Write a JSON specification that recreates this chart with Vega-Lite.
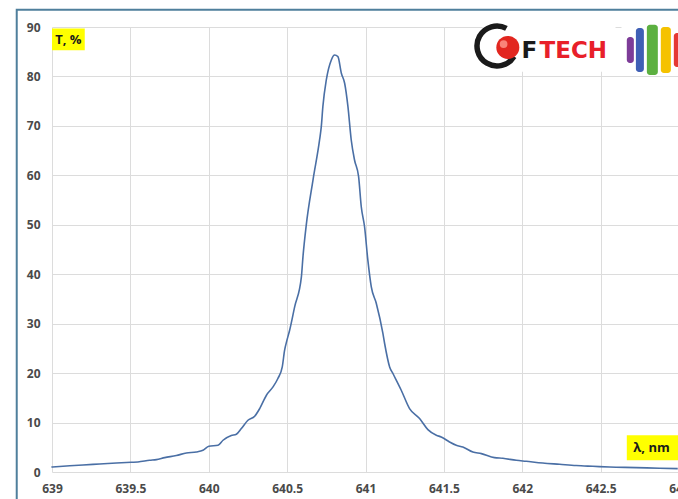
{
  "$schema": "https://vega.github.io/schema/vega-lite/v6.json",
  "width": 627,
  "height": 445,
  "autosize": {"type": "none"},
  "padding": {"left": 52, "top": 27, "right": 0, "bottom": 27},
  "background": "white",
  "config": {
    "view": {"stroke": null},
    "font": "Open Sans",
    "axis": {
      "domain": false,
      "ticks": false,
      "grid": true,
      "gridColor": "#dcdcdc",
      "gridWidth": 1,
      "labelFont": "Open Sans",
      "labelFontSize": 12,
      "labelFontWeight": "bold",
      "labelColor": "#4a4a4a"
    },
    "axisX": {"labelPadding": 11},
    "axisY": {"labelPadding": 12}
  },
  "data": {
    "values": [
      {"wl": 638.996, "T": 1.01},
      {"wl": 639.092, "T": 1.21},
      {"wl": 639.198, "T": 1.42},
      {"wl": 639.304, "T": 1.62},
      {"wl": 639.411, "T": 1.82},
      {"wl": 639.506, "T": 1.96},
      {"wl": 639.548, "T": 2.02},
      {"wl": 639.623, "T": 2.37},
      {"wl": 639.666, "T": 2.51},
      {"wl": 639.719, "T": 2.91},
      {"wl": 639.793, "T": 3.32},
      {"wl": 639.857, "T": 3.85},
      {"wl": 639.921, "T": 4.05},
      {"wl": 639.963, "T": 4.39},
      {"wl": 640.001, "T": 5.2},
      {"wl": 640.059, "T": 5.4},
      {"wl": 640.091, "T": 6.42},
      {"wl": 640.144, "T": 7.37},
      {"wl": 640.176, "T": 7.63},
      {"wl": 640.208, "T": 8.79},
      {"wl": 640.25, "T": 10.47},
      {"wl": 640.293, "T": 11.28},
      {"wl": 640.325, "T": 12.83},
      {"wl": 640.368, "T": 15.53},
      {"wl": 640.41, "T": 17.21},
      {"wl": 640.441, "T": 18.91},
      {"wl": 640.469, "T": 21.26},
      {"wl": 640.484, "T": 24.64},
      {"wl": 640.499, "T": 26.66},
      {"wl": 640.516, "T": 28.68},
      {"wl": 640.548, "T": 33.4},
      {"wl": 640.591, "T": 39.47},
      {"wl": 640.601, "T": 43.52},
      {"wl": 640.622, "T": 49.94},
      {"wl": 640.665, "T": 59.05},
      {"wl": 640.707, "T": 67.15},
      {"wl": 640.718, "T": 69.84},
      {"wl": 640.728, "T": 73.89},
      {"wl": 640.75, "T": 79.29},
      {"wl": 640.782, "T": 83.34},
      {"wl": 640.803, "T": 84.35},
      {"wl": 640.824, "T": 84.01},
      {"wl": 640.846, "T": 80.65},
      {"wl": 640.867, "T": 78.62},
      {"wl": 640.888, "T": 73.89},
      {"wl": 640.909, "T": 67.15},
      {"wl": 640.93, "T": 63.1},
      {"wl": 640.956, "T": 59.72},
      {"wl": 640.973, "T": 53.64},
      {"wl": 640.994, "T": 49.6},
      {"wl": 641.015, "T": 42.85},
      {"wl": 641.037, "T": 37.45},
      {"wl": 641.069, "T": 34.09},
      {"wl": 641.111, "T": 28.02},
      {"wl": 641.122, "T": 25.99},
      {"wl": 641.154, "T": 21.26},
      {"wl": 641.175, "T": 19.92},
      {"wl": 641.228, "T": 16.54},
      {"wl": 641.281, "T": 12.83},
      {"wl": 641.345, "T": 10.81},
      {"wl": 641.398, "T": 8.58},
      {"wl": 641.452, "T": 7.43},
      {"wl": 641.483, "T": 7.09},
      {"wl": 641.536, "T": 6.07},
      {"wl": 641.579, "T": 5.4},
      {"wl": 641.621, "T": 5.06},
      {"wl": 641.685, "T": 4.05},
      {"wl": 641.739, "T": 3.72},
      {"wl": 641.823, "T": 2.91},
      {"wl": 641.876, "T": 2.77},
      {"wl": 641.962, "T": 2.37},
      {"wl": 642.025, "T": 2.17},
      {"wl": 642.131, "T": 1.82},
      {"wl": 642.238, "T": 1.56},
      {"wl": 642.344, "T": 1.3},
      {"wl": 642.45, "T": 1.15},
      {"wl": 642.557, "T": 1.01},
      {"wl": 642.727, "T": 0.89},
      {"wl": 642.876, "T": 0.75},
      {"wl": 642.992, "T": 0.69}
    ]
  },
  "layer": [
    {
      "mark": {"type": "line", "color": "#4a6fa5", "strokeWidth": 1.6, "interpolate": "monotone"},
      "encoding": {
        "x": {
          "field": "wl", "type": "quantitative",
          "scale": {"domain": [639, 643], "nice": false, "zero": false},
          "axis": {"values": [639, 639.5, 640, 640.5, 641, 641.5, 642, 642.5, 643], "format": "~g", "title": null, "labelFlush": false, "labelOverlap": false}
        },
        "y": {
          "field": "T", "type": "quantitative",
          "scale": {"domain": [0, 90], "nice": false},
          "axis": {"values": [0, 10, 20, 30, 40, 50, 60, 70, 80, 90], "format": "d", "title": null, "labelFlush": false}
        }
      }
    },
    {
      "data": {"values": [{}]},
      "mark": {"type": "rect", "fillOpacity": 0, "stroke": "#4f7f9c", "strokeWidth": 2},
      "encoding": {
        "x": {"datum": 638.775, "type": "quantitative"},
        "x2": {"datum": 643.5},
        "y": {"datum": 93.5, "type": "quantitative"},
        "y2": {"datum": -10}
      }
    },
    {
      "data": {"values": [{}]},
      "mark": {"type": "rect", "fill": "white", "strokeWidth": 0},
      "encoding": {
        "x": {"datum": 641.747, "type": "quantitative"},
        "x2": {"datum": 642.595},
        "y": {"datum": 91.5, "type": "quantitative"},
        "y2": {"datum": 80.95}
      }
    },
    {
      "data": {"values": [{}]},
      "mark": {"type": "rect", "fill": "white", "strokeWidth": 0},
      "encoding": {
        "x": {"datum": 642.633, "type": "quantitative"},
        "x2": {"datum": 643.1},
        "y": {"datum": 91.5, "type": "quantitative"},
        "y2": {"datum": 80.95}
      }
    },
    {
      "data": {"values": [{}]},
      "mark": {"type": "point", "shape": "M 0.47 -0.88 A 1 1 0 1 0 0.85 0.53", "filled": false, "stroke": "#1a1a1a", "strokeWidth": 5.5, "size": 1600, "opacity": 1},
      "encoding": {
        "x": {"datum": 641.839, "type": "quantitative"},
        "y": {"datum": 86.17, "type": "quantitative"}
      }
    },
    {
      "data": {"values": [{}]},
      "mark": {"type": "point", "shape": "circle", "filled": true, "color": "#e2261f", "size": 529, "opacity": 1},
      "encoding": {
        "x": {"datum": 641.908, "type": "quantitative"},
        "y": {"datum": 85.87, "type": "quantitative"}
      }
    },
    {
      "data": {"values": [{}]},
      "mark": {"type": "point", "shape": "circle", "filled": true, "color": "#ff9b8f", "size": 60, "opacity": 0.8},
      "encoding": {
        "x": {"datum": 641.881, "type": "quantitative"},
        "y": {"datum": 86.56, "type": "quantitative"}
      }
    },
    {
      "data": {"values": [{}]},
      "mark": {"type": "text", "text": "F", "font": "DejaVu Sans", "fontWeight": "bold", "fontSize": 23, "align": "left", "baseline": "alphabetic", "color": "#1a1a1a"},
      "encoding": {
        "x": {"datum": 641.996, "type": "quantitative"},
        "y": {"datum": 83.74, "type": "quantitative"}
      }
    },
    {
      "data": {"values": [{}]},
      "mark": {"type": "text", "text": "TECH", "font": "DejaVu Sans", "fontWeight": "bold", "fontSize": 23, "align": "left", "baseline": "alphabetic", "color": "#e8202a"},
      "encoding": {
        "x": {"datum": 642.11, "type": "quantitative"},
        "y": {"datum": 83.74, "type": "quantitative"}
      }
    },
    {
      "data": {"values": [{}]},
      "mark": {"type": "rect", "fill": "#7d3c98", "cornerRadius": 3},
      "encoding": {
        "x": {"datum": 642.667, "type": "quantitative"},
        "x2": {"datum": 642.712},
        "y": {"datum": 88.0, "type": "quantitative"},
        "y2": {"datum": 82.73}
      }
    },
    {
      "data": {"values": [{}]},
      "mark": {"type": "rect", "fill": "#3f5fb5", "cornerRadius": 3},
      "encoding": {
        "x": {"datum": 642.725, "type": "quantitative"},
        "x2": {"datum": 642.776},
        "y": {"datum": 89.82, "type": "quantitative"},
        "y2": {"datum": 80.91}
      }
    },
    {
      "data": {"values": [{}]},
      "mark": {"type": "rect", "fill": "#5cb040", "cornerRadius": 3},
      "encoding": {
        "x": {"datum": 642.795, "type": "quantitative"},
        "x2": {"datum": 642.865},
        "y": {"datum": 90.43, "type": "quantitative"},
        "y2": {"datum": 80.3}
      }
    },
    {
      "data": {"values": [{}]},
      "mark": {"type": "rect", "fill": "#f5c200", "cornerRadius": 3},
      "encoding": {
        "x": {"datum": 642.884, "type": "quantitative"},
        "x2": {"datum": 642.948},
        "y": {"datum": 90.02, "type": "quantitative"},
        "y2": {"datum": 80.71}
      }
    },
    {
      "data": {"values": [{}]},
      "mark": {"type": "rect", "fill": "#e53935", "cornerRadius": 3},
      "encoding": {
        "x": {"datum": 642.967, "type": "quantitative"},
        "x2": {"datum": 643.02},
        "y": {"datum": 88.81, "type": "quantitative"},
        "y2": {"datum": 81.93}
      }
    },
    {
      "data": {"values": [{}]},
      "mark": {"type": "rect", "fill": "#ffff00", "strokeWidth": 0},
      "encoding": {
        "x": {"datum": 639.0, "type": "quantitative"},
        "x2": {"datum": 639.209},
        "y": {"datum": 89.7, "type": "quantitative"},
        "y2": {"datum": 85.28}
      }
    },
    {
      "data": {"values": [{}]},
      "mark": {"type": "text", "text": "T, %", "font": "Open Sans", "fontWeight": "bold", "fontSize": 13, "align": "center", "baseline": "middle", "color": "#1a1a1a"},
      "encoding": {
        "x": {"datum": 639.104, "type": "quantitative"},
        "y": {"datum": 87.45, "type": "quantitative"}
      }
    },
    {
      "data": {"values": [{}]},
      "mark": {"type": "rect", "fill": "#ffff00", "strokeWidth": 0},
      "encoding": {
        "x": {"datum": 642.667, "type": "quantitative"},
        "x2": {"datum": 643.05},
        "y": {"datum": 7.43, "type": "quantitative"},
        "y2": {"datum": 2.37}
      }
    },
    {
      "data": {"values": [{}]},
      "mark": {"type": "text", "text": "λ, nm", "font": "Open Sans", "fontWeight": "bold", "fontSize": 13, "align": "center", "baseline": "middle", "color": "#1a1a1a"},
      "encoding": {
        "x": {"datum": 642.825, "type": "quantitative"},
        "y": {"datum": 4.9, "type": "quantitative"}
      }
    }
  ]
}
